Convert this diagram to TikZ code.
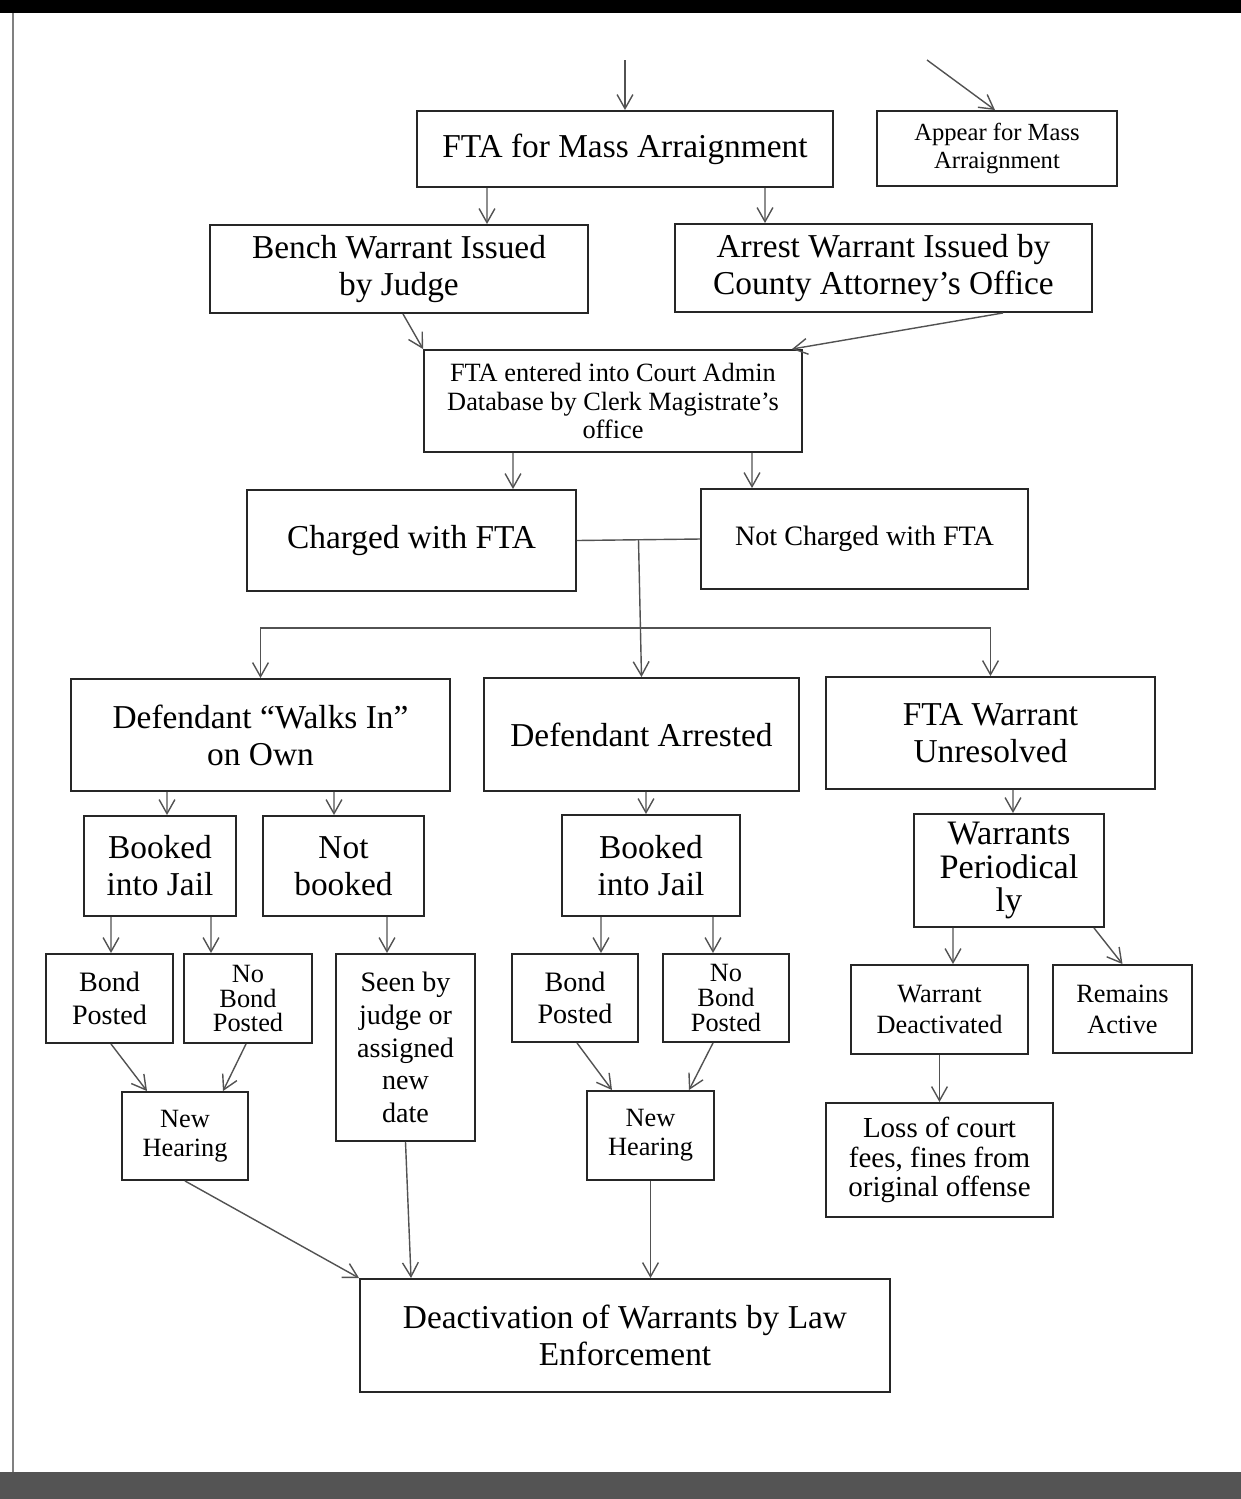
\documentclass[tikz,border=0pt]{standalone}
\usepackage{fontspec}
\setmainfont{Liberation Serif}
\usepackage{tikz}
\usetikzlibrary{
    arrows.meta,
    positioning,
    calc
}
\definecolor{linegray}{rgb}{0.32,0.32,0.32}
\definecolor{bargray}{rgb}{0.33,0.33,0.33}
\tikzstyle{box} = [
    draw=black!85,
    line width=1.1pt,
    inner sep=0pt,
    align=center
]
\tikzstyle{arrow} = [
    -{Straight Barb[length=8pt,width=9pt]},
    draw=linegray,
    line width=0.8pt
]
\tikzstyle{link} = [
    draw=linegray,
    line width=0.8pt
]
\tikzstyle{bigtext} = [font=\fontsize{19}{21}\selectfont]
\tikzstyle{midtext} = [font=\fontsize{16}{18.5}\selectfont]
\tikzstyle{smalltext} = [font=\fontsize{15}{17}\selectfont]

\begin{document}
\begin{tikzpicture}[x=0.02cm, y=-0.02cm]
        \useasboundingbox (0,0) rectangle (1241,1499);

        % Page frame (scan edges)
        \fill[black] (0,0) rectangle (1241,13);
        \fill[bargray] (0,1472) rectangle (1241,1499);
        \draw[gray, line width=1.2pt] (13,13) -- (13,1472);

        % Arraignment
        \node[box, bigtext, minimum width=8.32cm, minimum height=1.52cm] (fta) at (625,149) {FTA for Mass Arraignment};
        \node[box, font=\fontsize{14}{16}\selectfont, minimum width=4.8cm, minimum height=1.5cm] (appear) at (997,148.5) {Appear for Mass\\Arraignment};
        \coordinate (in1) at (625,60);
        \coordinate (in2) at (927,60);

        % Warrants
        \node[box, bigtext, minimum width=7.56cm, minimum height=1.76cm] (bench) at (399,269) {Bench Warrant Issued\\by Judge};
        \node[box, bigtext, minimum width=8.34cm, minimum height=1.76cm] (arrest) at (883.5,268) {Arrest Warrant Issued by\\County Attorney’s Office};
        \node[box, font=\fontsize{15}{16.2}\selectfont, minimum width=7.56cm, minimum height=2.04cm] (entered) at (613,401) {FTA entered into Court Admin\\Database by Clerk Magistrate’s\\office};

        % Charge
        \node[box, bigtext, minimum width=6.58cm, minimum height=2.02cm] (charged) at (411.5,540.5) {Charged with FTA};
        \node[box, midtext, minimum width=6.54cm, minimum height=2cm] (notcharged) at (864.5,539) {Not Charged with FTA};

        % Outcomes
        \node[box, bigtext, minimum width=7.58cm, minimum height=2.24cm] (walksin) at (260.5,735) {Defendant “Walks In”\\on Own};
        \node[box, bigtext, minimum width=6.3cm, minimum height=2.26cm] (arrested) at (641.5,734.5) {Defendant Arrested};
        \node[box, bigtext, minimum width=6.58cm, minimum height=2.24cm] (unresolved) at (990.5,733) {FTA Warrant\\Unresolved};

        \node[box, bigtext, minimum width=3.04cm, minimum height=2cm] (bookedL) at (160,866) {Booked\\into Jail};
        \node[box, bigtext, minimum width=3.22cm, minimum height=2cm] (notbooked) at (343.5,866) {Not\\booked};
        \node[box, bigtext, minimum width=3.56cm, minimum height=2.02cm] (bookedM) at (651,865.5) {Booked\\into Jail};
        \node[box, font=\fontsize{19.5}{19.3}\selectfont, minimum width=3.8cm, minimum height=2.26cm] (periodic) at (1009,870.5) {Warrants\\Periodical\\ly};

        % Bond
        \node[box, midtext, minimum width=2.54cm, minimum height=1.78cm] (bondL) at (109.5,998.5) {Bond\\Posted};
        \node[box, font=\fontsize{15}{14}\selectfont, minimum width=2.56cm, minimum height=1.78cm] (nobondL) at (248,998.5) {No\\Bond\\Posted};
        \node[box, midtext, font=\fontsize{16}{18.7}\selectfont, minimum width=2.78cm, minimum height=3.74cm] (seen) at (405.5,1047.5) {Seen by\\judge or\\assigned\\new\\date};
        \node[box, midtext, minimum width=2.52cm, minimum height=1.76cm] (bondM) at (575,998) {Bond\\Posted};
        \node[box, font=\fontsize{15}{14}\selectfont, minimum width=2.52cm, minimum height=1.76cm] (nobondM) at (726,998) {No\\Bond\\Posted};
        \node[box, smalltext, font=\fontsize{15}{17.6}\selectfont, minimum width=3.54cm, minimum height=1.78cm] (deact) at (939.5,1009.5) {Warrant\\Deactivated};
        \node[box, smalltext, font=\fontsize{15}{17.6}\selectfont, minimum width=2.78cm, minimum height=1.76cm] (remains) at (1122.5,1009) {Remains\\Active};

        % Hearings
        \node[box, smalltext, font=\fontsize{15}{16.5}\selectfont, minimum width=2.52cm, minimum height=1.76cm] (hearingL) at (185,1136) {New\\Hearing};
        \node[box, smalltext, font=\fontsize{15}{16.5}\selectfont, minimum width=2.54cm, minimum height=1.78cm] (hearingM) at (650.5,1135.5) {New\\Hearing};
        \node[box, midtext, font=\fontsize{16.5}{16.7}\selectfont, minimum width=4.54cm, minimum height=2.28cm] (loss) at (939.5,1160) {Loss of court\\fees, fines from\\original offense};

        % Final
        \node[box, bigtext, minimum width=10.6cm, minimum height=2.26cm] (lawenf) at (625,1335.5) {Deactivation of Warrants by Law\\Enforcement};

        % Connectors
        \draw[arrow] (in1) -- (fta.north);
        \draw[arrow] (in2) -- ([xshift=-0.04cm]appear.north);
        \draw[arrow] ([xshift=-2.76cm]fta.south) -- ([xshift=1.76cm]bench.north);
        \draw[arrow] ([xshift=2.8cm]fta.south) -- ([xshift=-2.37cm]arrest.north);
        \draw[arrow] ([xshift=0.08cm]bench.south) -- (entered.north west);
        \draw[arrow] ([xshift=2.39cm]arrest.south) -- ([xshift=3.58cm]entered.north);
        \draw[arrow] ([xshift=-2cm]entered.south) -- ([xshift=2.03cm]charged.north);
        \draw[arrow] ([xshift=2.78cm]entered.south) -- ([xshift=-2.25cm]notcharged.north);

        % Split below the charge boxes
        \coordinate (split) at ($(charged.east)!0.5!(notcharged.west)$);
        \coordinate (bar) at (640,628);
        \draw[link] (charged.east) -- (notcharged.west);
        \draw[arrow] (split) -- (arrested.north);
        \draw[arrow, {Straight Barb[length=8pt,width=9pt]}-{Straight Barb[length=8pt,width=9pt]}] (walksin.north) |- (bar) -| (unresolved.north);

        \draw[arrow] ([xshift=-1.87cm]walksin.south) -- ([xshift=0.14cm]bookedL.north);
        \draw[arrow] ([xshift=1.47cm]walksin.south) -- ([xshift=-0.19cm]notbooked.north);
        \draw[arrow] ([xshift=0.09cm]arrested.south) -- ([xshift=-0.1cm]bookedM.north);
        \draw[arrow] ([xshift=0.45cm]unresolved.south) -- ([xshift=0.08cm]periodic.north);

        \draw[arrow] ([xshift=-0.98cm]bookedL.south) -- ([xshift=0.03cm]bondL.north);
        \draw[arrow] ([xshift=1.02cm]bookedL.south) -- ([xshift=-0.74cm]nobondL.north);
        \draw[arrow] ([xshift=0.87cm]notbooked.south) -- ([xshift=-0.37cm]seen.north);
        \draw[arrow] ([xshift=-1cm]bookedM.south) -- ([xshift=0.52cm]bondM.north);
        \draw[arrow] ([xshift=1.24cm]bookedM.south) -- ([xshift=-0.26cm]nobondM.north);
        \draw[arrow] ([xshift=-1.12cm]periodic.south) -- ([xshift=0.27cm]deact.north);
        \draw[arrow] ([xshift=1.7cm]periodic.south) -- (remains.north);

        \draw[arrow] ([xshift=0.03cm]bondL.south) -- ([xshift=-0.76cm]hearingL.north);
        \draw[arrow] ([xshift=-0.04cm]nobondL.south) -- ([xshift=0.76cm]hearingL.north);
        \draw[arrow] ([xshift=0.04cm]bondM.south) -- ([xshift=-0.77cm]hearingM.north);
        \draw[arrow] ([xshift=-0.26cm]nobondM.south) -- ([xshift=0.77cm]hearingM.north);
        \draw[arrow] (deact.south) -- (loss.north);

        \draw[arrow] (hearingL.south) -- (lawenf.north west);
        \draw[arrow] (seen.south) -- ([xshift=-4.28cm]lawenf.north);
        \draw[arrow] (hearingM.south) -- (hearingM.south |- lawenf.north);
    \end{tikzpicture}
\end{document}
